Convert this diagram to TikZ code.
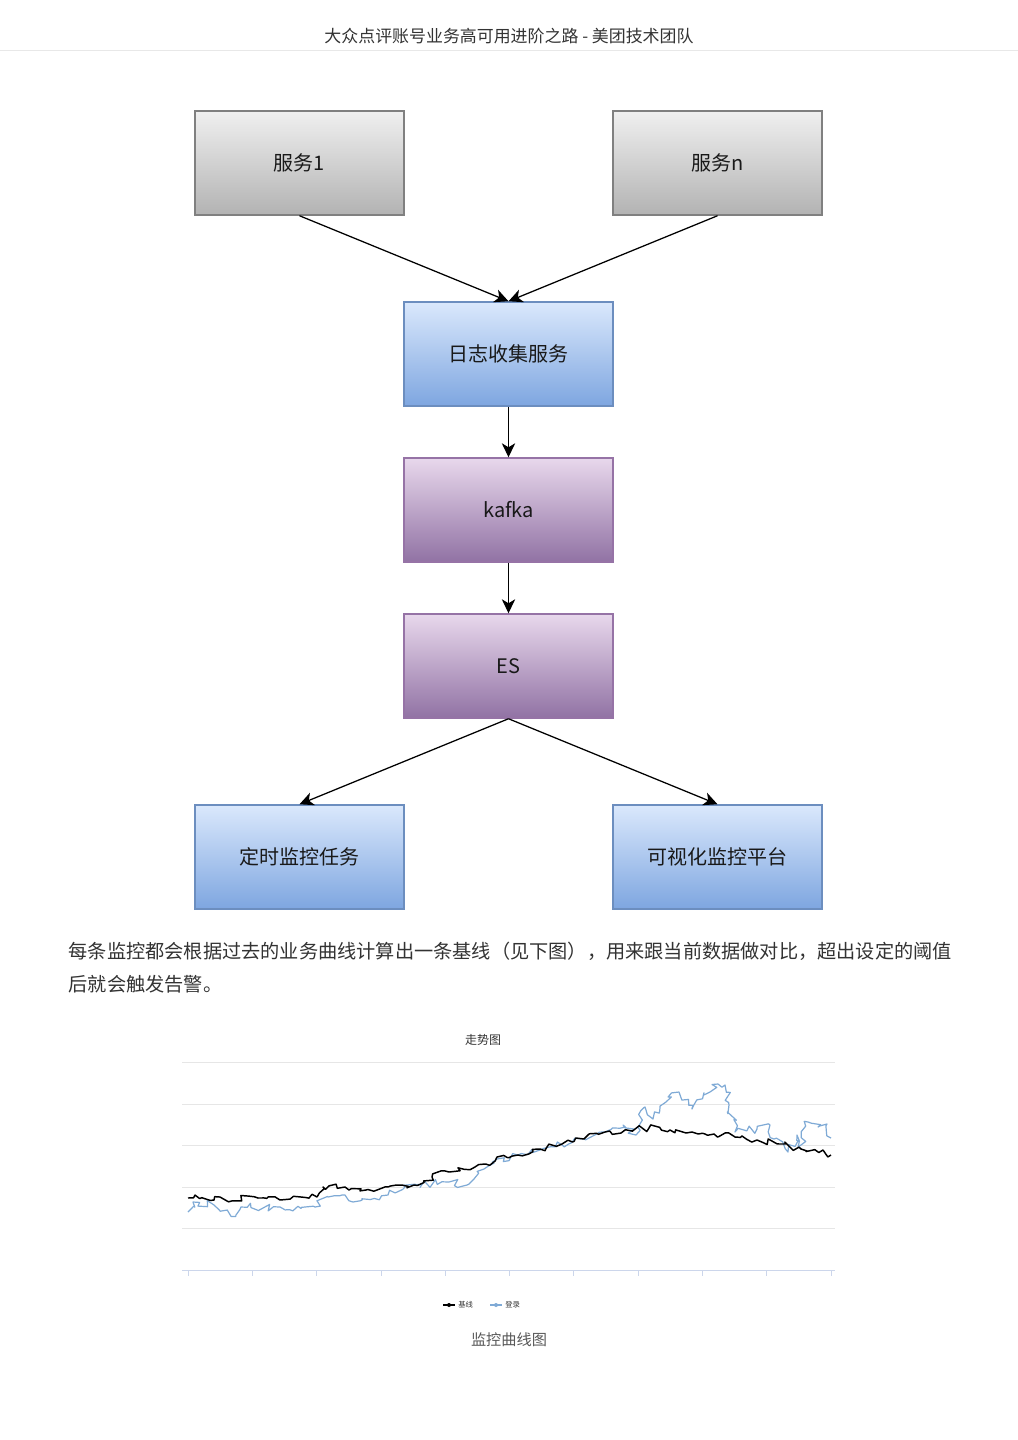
\documentclass[tikz,border=0pt]{standalone}
\usepackage{fontspec}
\setmainfont{Noto Sans CJK SC}
\usepackage{xcolor}
\usetikzlibrary{arrows.meta,decorations.pathmorphing}
\definecolor{hdrtext}{HTML}{333333}
\definecolor{hdrline}{HTML}{E8E8E8}
\definecolor{grayedge}{HTML}{808080}
\definecolor{bluetop}{HTML}{DAE8FC}
\definecolor{bluebot}{HTML}{7EA6E0}
\definecolor{blueedge}{HTML}{6C8EBF}
\definecolor{purptop}{HTML}{E8D8EC}
\definecolor{purpbot}{HTML}{9172A4}
\definecolor{purpedge}{HTML}{9673A6}
\definecolor{gridgray}{HTML}{E6E6E6}
\definecolor{axisgray}{HTML}{CCD6EB}
\definecolor{loginblue}{HTML}{7FAAD6}

\begin{document}
\begin{tikzpicture}[x=0.75pt,y=-0.75pt,every node/.style={text=hdrtext},
  box/.style={line width=1.1pt,minimum width=156.75pt,minimum height=78pt,inner sep=0pt,
    font=\fontsize{15}{18}\selectfont,text=black!90},
  graybox/.style={box,draw=grayedge,top color=black!6,bottom color=black!30},
  bluebox/.style={box,draw=blueedge,top color=bluetop,bottom color=bluebot},
  purplebox/.style={box,draw=purpedge,top color=purptop,bottom color=purpbot},
  link/.style={-{Stealth[length=10.5pt,width=10pt,inset=3pt]},line width=0.95pt}]
\pgfmathsetseed{17}
\fill[white] (0,0) rectangle (1018,1440);
\useasboundingbox (0,0) rectangle (1018,1440);

% page header
\node (hdr) at (509,36) {\fontsize{12.7}{15}\selectfont 大众点评账号业务高可用进阶之路 - 美团技术团队};
\draw[hdrline,line width=0.75pt] (0,50) -- (1018,50);

% flow
\node[graybox] (svc1) at (299.5,163) {服务1};
\node[graybox] (svcn) at (717.5,163) {服务n};
\node[bluebox] (logsvc) at (508.5,354) {日志收集服务};
\node[purplebox] (kafka) at (508.5,510) {kafka};
\node[purplebox] (es) at (508.5,666) {ES};
\node[bluebox] (timer) at (299.5,857) {定时监控任务};
\node[bluebox] (viz) at (717.5,857) {可视化监控平台};

\draw[link] (svc1.south) -- (logsvc.north);
\draw[link] (svcn.south) -- (logsvc.north);
\draw[link] (logsvc) -- (kafka);
\draw[link] (kafka) -- (es);
\draw[link] (es.south) -- (timer.north);
\draw[link] (es.south) -- (viz.north);

% paragraph
\node[anchor=west,font=\fontsize{14.4}{17}\selectfont] (para1) at (64,951)
  {每条监控都会根据过去的业务曲线计算出一条基线（见下图），用来跟当前数据做对比，超出设定的阈值};
\node[anchor=west,font=\fontsize{14.4}{17}\selectfont] (para2) at (64,984) {后就会触发告警。};

% chart
\node[font=\fontsize{9}{11}\selectfont] (ctitle) at (483,1040) {走势图};
\foreach \gy in {1062,1104,1145,1187,1228}
  \draw[gridgray,line width=0.75pt] (182,\gy) -- (835,\gy);
\draw[axisgray,line width=0.75pt] (182,1270) -- (835,1270);
\foreach \i in {0,...,10}
  \draw[axisgray,line width=0.6pt] ({188+64.3*\i},1270) -- ({188+64.3*\i},1276);

\draw[loginblue,line width=0.9pt,line join=round,decorate,
  decoration={random steps,segment length=3.2pt,amplitude=3pt}]
  (188,1212) -- (193,1202) -- (214,1205) -- (236,1215) -- (241,1207) -- (280,1207)
  -- (315,1207) -- (328,1197) -- (345,1195) -- (353,1202) -- (388,1195) -- (414,1185)
  -- (449,1182) -- (467,1185) -- (484,1169) -- (497,1159) -- (518,1155) -- (540,1150)
  -- (562,1145) -- (584,1139) -- (605,1132) -- (623,1125) -- (636,1135) -- (645,1107)
  -- (653,1119) -- (666,1102) -- (679,1092) -- (692,1109) -- (710,1092) -- (718,1084)
  -- (725,1085) -- (729,1105) -- (735,1132) -- (757,1129) -- (770,1125) -- (774,1139)
  -- (788,1152) -- (797,1135) -- (801,1145) -- (808,1122) -- (818,1127) -- (827,1124)
  -- (831,1138);
\draw[black,line width=1.1pt,line join=round,decorate,
  decoration={random steps,segment length=3.2pt,amplitude=2.6pt}]
  (188,1198) -- (214,1200) -- (258,1198) -- (280,1200) -- (301,1197) -- (317,1197)
  -- (323,1187) -- (345,1187) -- (349,1190) -- (366,1190) -- (388,1187) -- (414,1185)
  -- (432,1177) -- (449,1172) -- (475,1167) -- (490,1165) -- (497,1157) -- (518,1155)
  -- (540,1149) -- (562,1144) -- (584,1139) -- (605,1132) -- (627,1130) -- (649,1128)
  -- (670,1130) -- (692,1132) -- (714,1134) -- (735,1137) -- (757,1140) -- (779,1144)
  -- (801,1149) -- (823,1150) -- (831,1155);

% legend
\draw[line width=0.9pt] (443,1305) -- (455,1305);
\fill (449,1305) circle (2);
\node[anchor=west,inner sep=0pt,font=\fontsize{5.5}{6}\selectfont] (lgbase) at (458,1305) {基线};
\draw[loginblue,line width=0.9pt] (490,1305) -- (502,1305);
\fill[loginblue] (496,1305) circle (2);
\node[anchor=west,inner sep=0pt,font=\fontsize{5.5}{6}\selectfont] (lglogin) at (505,1305) {登录};

\node[font=\fontsize{11.4}{13}\selectfont,text=black!65] (caption) at (509,1340) {监控曲线图};
\end{tikzpicture}
\end{document}
